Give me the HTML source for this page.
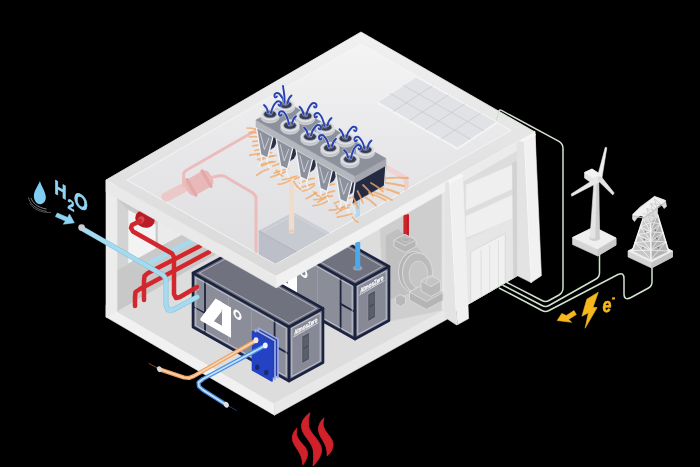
<!DOCTYPE html>
<html lang="en"><head><meta charset="utf-8"><title>AtmosZero heat pump system</title>
<style>
html,body{margin:0;padding:0;background:#000;}
body{width:700px;height:467px;overflow:hidden;font-family:"Liberation Sans",sans-serif;}
svg{display:block;will-change:transform;}
text{text-rendering:geometricPrecision;}
</style></head><body>
<svg width="700" height="467" viewBox="0 0 700 467">
<rect width="700" height="467" fill="#000"/>
<g id="floor">
<polygon points="106.0,305.0 274.5,403.7 447.0,307.8 447.0,250.0 361.0,165.0 117.0,300.0" fill="#dddddd"  stroke="#dddddd" stroke-width="0.6" stroke-linejoin="round"/>
<polygon points="106.0,305.0 274.5,403.7 274.5,415.2 106.0,317.0" fill="#f1f1f1"  stroke="#f1f1f1" stroke-width="0.6" stroke-linejoin="round"/>
<polygon points="274.5,403.7 447.0,307.8 447.0,319.3 274.5,415.2" fill="#e8e8e8"  stroke="#e8e8e8" stroke-width="0.6" stroke-linejoin="round"/>
<polyline points="274.5,403.7 447.0,307.8" fill="none" stroke="#f3f3f3" stroke-width="0.8" stroke-linejoin="round" stroke-linecap="round" />
</g>
<g id="interiorA">
<polygon points="110.0,185.0 117.0,311.0 216.0,254.0 216.0,245.0" fill="#c8c8c8"  stroke="#c8c8c8" stroke-width="0.6" stroke-linejoin="round"/>
<polygon points="128.0,210.0 156.0,225.0 156.0,248.0 128.0,264.0" fill="#f3f3f3"  stroke="#f3f3f3" stroke-width="0.6" stroke-linejoin="round"/>
<polygon points="117.0,199.0 128.0,210.0 128.0,264.0 117.0,270.0" fill="#d3d3d3"  stroke="#d3d3d3" stroke-width="0.6" stroke-linejoin="round"/>
<polygon points="156.0,225.0 158.0,226.0 158.0,247.0 156.0,248.0" fill="#c6c6c6"  stroke="#c6c6c6" stroke-width="0.6" stroke-linejoin="round"/>
<polygon points="158.0,220.0 184.0,235.0 158.0,247.5" fill="#ebebeb"  stroke="#ebebeb" stroke-width="0.6" stroke-linejoin="round"/>
<polygon points="128.0,264.0 184.0,234.0 202.0,244.0 144.0,273.0" fill="#c9c9c9"  stroke="#c9c9c9" stroke-width="0.6" stroke-linejoin="round"/>
</g>
<g id="interiorB">
<polygon points="277.0,289.0 447.0,195.0 447.0,308.0 330.0,372.0 277.0,330.0" fill="#dddddd"  stroke="#dddddd" stroke-width="0.6" stroke-linejoin="round"/>
<polygon points="380.0,227.0 447.0,189.0 447.0,309.0 385.0,322.0" fill="#cecece"  stroke="#cecece" stroke-width="0.6" stroke-linejoin="round"/>
<polygon points="442.0,192.0 447.0,189.0 447.0,309.0 442.0,310.0" fill="#e6e6e6"  stroke="#e6e6e6" stroke-width="0.6" stroke-linejoin="round"/>
</g>
<g id="motor">
<rect x="403.4" y="214.5" width="5.4" height="24" fill="#d3232a"/>
<rect x="407" y="214.5" width="1.8" height="24" fill="#b81c24"/>
<polygon points="386.0,236.0 398.0,229.0 421.0,252.0 409.0,293.0 387.0,300.0" fill="#c0c0c0"  stroke="#c0c0c0" stroke-width="0.6" stroke-linejoin="round"/>
<polygon points="394.0,240.0 405.0,234.5 416.0,240.0 416.0,246.5 405.0,252.5 394.0,246.5" fill="#b6b6b6" stroke="#dadada" stroke-width="0.9" stroke-linejoin="round"/>
<polygon points="394.0,240.0 405.0,234.5 416.0,240.0 405.0,245.5" fill="#b5b5b5" stroke="#dadada" stroke-width="0.9" stroke-linejoin="round"/>
<ellipse cx="405.8" cy="239.6" rx="4.2" ry="2.3" fill="#b2b2b2" stroke="#d0d0d0" stroke-width="0.7"/>
<ellipse cx="414" cy="272" rx="15.4" ry="20.5" fill="#b4b4b4" stroke="#d6d6d6" stroke-width="1.1"/>
<ellipse cx="417.5" cy="273" rx="15" ry="20" fill="#bbbbbb" stroke="#d8d8d8" stroke-width="1.1"/>
<ellipse cx="418.5" cy="274.5" rx="9.4" ry="13.5" fill="#c6c6c6" stroke="#d6d6d6" stroke-width="1"/>
<polygon points="395.5,297.0 400.0,294.5 405.5,297.5 405.5,303.5 400.5,306.5 395.5,303.5" fill="#b8b8b8" stroke="#dadada" stroke-width="0.9" stroke-linejoin="round"/>
<polygon points="409.5,292.0 426.0,283.0 443.0,292.5 443.0,300.5 426.5,309.5 409.5,300.0" fill="#b5b5b5" stroke="#dadada" stroke-width="0.9" stroke-linejoin="round"/>
<polygon points="409.5,292.0 426.0,283.0 443.0,292.5 426.5,301.5" fill="#c0c0c0" stroke="#dadada" stroke-width="0.9" stroke-linejoin="round"/>
<polygon points="421.0,281.0 431.0,275.5 440.5,281.0 440.5,291.0 431.0,296.5 421.0,291.0" fill="#b9b9b9" stroke="#dadada" stroke-width="0.9" stroke-linejoin="round"/>
<polygon points="421.0,281.0 431.0,275.5 440.5,281.0 431.0,286.5" fill="#c4c4c4" stroke="#dadada" stroke-width="0.9" stroke-linejoin="round"/>
<path d="M426,283.5 C426,278 431,275 435,278" fill="none" stroke="#dadada" stroke-width="0.9"/>
</g>
<g id="machine2">
<polygon points="259.0,231.0 293.0,212.5 389.0,266.5 355.0,285.0" fill="#70737f"  stroke="#70737f" stroke-width="0.6" stroke-linejoin="round"/>
<polygon points="259.0,231.0 355.0,285.0 355.0,339.0 259.0,285.0" fill="#8b8e99"  stroke="#8b8e99" stroke-width="0.6" stroke-linejoin="round"/>
<polygon points="355.0,285.0 389.0,266.5 389.0,320.5 355.0,339.0" fill="#878a96"  stroke="#878a96" stroke-width="0.6" stroke-linejoin="round"/>
<polyline points="294.5,255.0 294.5,301.0" fill="none" stroke="#9da0ab" stroke-width="0.8" stroke-linejoin="round" stroke-linecap="round" />
<polyline points="317.6,267.9 317.6,313.9" fill="none" stroke="#9da0ab" stroke-width="0.8" stroke-linejoin="round" stroke-linecap="round" />
<polyline points="271.0,239.8 271.0,289.8" fill="none" stroke="#1c2340" stroke-width="1.8" stroke-linejoin="round" stroke-linecap="round" />
<polyline points="340.6,278.9 340.6,328.9" fill="none" stroke="#1c2340" stroke-width="1.8" stroke-linejoin="round" stroke-linecap="round" />
<polyline points="340.6,303.9 355.0,312.0" fill="none" stroke="#1c2340" stroke-width="1.8" stroke-linejoin="round" stroke-linecap="round" />
<polyline points="259.0,264.5 271.0,271.2" fill="none" stroke="#1c2340" stroke-width="1.4" stroke-linejoin="round" stroke-linecap="round" />
<polyline points="261.8,235.5 352.2,286.3 352.2,334.5 261.8,283.7 261.8,235.5" fill="none" stroke="#d9dbe3" stroke-width="0.7" stroke-linejoin="round" stroke-linecap="round" />
<polyline points="357.8,286.3 386.2,271.0 386.2,319.2 357.8,334.5 357.8,286.3" fill="none" stroke="#d9dbe3" stroke-width="0.7" stroke-linejoin="round" stroke-linecap="round" />
<polyline points="265.5,231.0 293.0,216.1 382.5,266.5 355.0,281.4 265.5,231.0" fill="none" stroke="#c9ccd6" stroke-width="0.7" stroke-linejoin="round" stroke-linecap="round" />
<polyline points="259.0,231.0 293.0,212.5 389.0,266.5 355.0,285.0 259.0,231.0" fill="none" stroke="#1c2340" stroke-width="2.6" stroke-linejoin="round" stroke-linecap="round" />
<polyline points="259.0,231.0 259.0,285.0 355.0,339.0 389.0,320.5 389.0,266.5" fill="none" stroke="#1c2340" stroke-width="2.6" stroke-linejoin="round" stroke-linecap="round" />
<polyline points="355.0,285.0 355.0,339.0" fill="none" stroke="#1c2340" stroke-width="2.8" stroke-linejoin="round" stroke-linecap="round" />
<g transform="matrix(0.866,-0.5,0,1,359.3,287.5)"><line x1="0" y1="7.6" x2="29" y2="7.6" stroke="#eef0f5" stroke-width="0.7"/><text x="14.5" y="6.2" font-family="Liberation Sans, sans-serif" font-weight="700" font-size="6.8" fill="#ffffff" stroke="#ffffff" stroke-width="0.25" text-anchor="middle" textLength="27" lengthAdjust="spacingAndGlyphs">AtmosZero</text><rect x="10" y="12" width="8.5" height="27" fill="#4c4f5d" stroke="#a4a7b2" stroke-width="0.5"/><rect x="11.5" y="14" width="5.5" height="10" fill="#5b5e6b"/><rect x="11.5" y="26" width="5.5" height="11" fill="#5b5e6b"/></g>
<g transform="matrix(0.866,0.5,0,1,266.0,247.4)" fill="#ffffff" font-family="Liberation Sans, sans-serif" font-weight="700"><clipPath id="lc2"><polygon points="0.3,29.4 18,0 36,0 36,30.7 0.6,30.9"/></clipPath><g clip-path="url(#lc2)"><text transform="translate(-1.23,37.04) scale(1.506,1)" x="0" y="0" font-size="53.8">4</text></g><polygon points="0.3,29.4 18,0 25,0 25,9.6 15.9,24.2 25.4,24 25.4,30.6 0.6,30.9"/><text x="37.3" y="20" font-size="30">°</text></g>
</g>
<ellipse cx="357.7" cy="268" rx="4.6" ry="2.6" fill="#9aa0ad"/>
<rect x="355.2" y="242" width="5" height="26" fill="#4aa9ea"/>
<ellipse cx="357.7" cy="268" rx="2.5" ry="1.3" fill="#4aa9ea"/>
<g id="machine1">
<polygon points="193.0,273.0 227.0,254.5 323.0,308.5 289.0,327.0" fill="#70737f"  stroke="#70737f" stroke-width="0.6" stroke-linejoin="round"/>
<polygon points="193.0,273.0 289.0,327.0 289.0,381.0 193.0,327.0" fill="#8b8e99"  stroke="#8b8e99" stroke-width="0.6" stroke-linejoin="round"/>
<polygon points="289.0,327.0 323.0,308.5 323.0,362.5 289.0,381.0" fill="#878a96"  stroke="#878a96" stroke-width="0.6" stroke-linejoin="round"/>
<polyline points="228.5,297.0 228.5,343.0" fill="none" stroke="#9da0ab" stroke-width="0.8" stroke-linejoin="round" stroke-linecap="round" />
<polyline points="251.6,309.9 251.6,355.9" fill="none" stroke="#9da0ab" stroke-width="0.8" stroke-linejoin="round" stroke-linecap="round" />
<polyline points="205.0,281.8 205.0,331.8" fill="none" stroke="#1c2340" stroke-width="1.8" stroke-linejoin="round" stroke-linecap="round" />
<polyline points="274.6,320.9 274.6,370.9" fill="none" stroke="#1c2340" stroke-width="1.8" stroke-linejoin="round" stroke-linecap="round" />
<polyline points="274.6,345.9 289.0,354.0" fill="none" stroke="#1c2340" stroke-width="1.8" stroke-linejoin="round" stroke-linecap="round" />
<polyline points="193.0,306.5 205.0,313.2" fill="none" stroke="#1c2340" stroke-width="1.4" stroke-linejoin="round" stroke-linecap="round" />
<polyline points="195.8,277.5 286.2,328.3 286.2,376.5 195.8,325.7 195.8,277.5" fill="none" stroke="#d9dbe3" stroke-width="0.7" stroke-linejoin="round" stroke-linecap="round" />
<polyline points="291.8,328.3 320.2,313.0 320.2,361.2 291.8,376.5 291.8,328.3" fill="none" stroke="#d9dbe3" stroke-width="0.7" stroke-linejoin="round" stroke-linecap="round" />
<polyline points="199.5,273.0 227.0,258.1 316.5,308.5 289.0,323.4 199.5,273.0" fill="none" stroke="#c9ccd6" stroke-width="0.7" stroke-linejoin="round" stroke-linecap="round" />
<polyline points="193.0,273.0 227.0,254.5 323.0,308.5 289.0,327.0 193.0,273.0" fill="none" stroke="#1c2340" stroke-width="2.6" stroke-linejoin="round" stroke-linecap="round" />
<polyline points="193.0,273.0 193.0,327.0 289.0,381.0 323.0,362.5 323.0,308.5" fill="none" stroke="#1c2340" stroke-width="2.6" stroke-linejoin="round" stroke-linecap="round" />
<polyline points="289.0,327.0 289.0,381.0" fill="none" stroke="#1c2340" stroke-width="2.8" stroke-linejoin="round" stroke-linecap="round" />
<g transform="matrix(0.866,-0.5,0,1,293.3,329.5)"><line x1="0" y1="7.6" x2="29" y2="7.6" stroke="#eef0f5" stroke-width="0.7"/><text x="14.5" y="6.2" font-family="Liberation Sans, sans-serif" font-weight="700" font-size="6.8" fill="#ffffff" stroke="#ffffff" stroke-width="0.25" text-anchor="middle" textLength="27" lengthAdjust="spacingAndGlyphs">AtmosZero</text><rect x="10" y="12" width="8.5" height="27" fill="#4c4f5d" stroke="#a4a7b2" stroke-width="0.5"/><rect x="11.5" y="14" width="5.5" height="10" fill="#5b5e6b"/><rect x="11.5" y="26" width="5.5" height="11" fill="#5b5e6b"/></g>
<g transform="matrix(0.866,0.5,0,1,200.0,289.4)" fill="#ffffff" font-family="Liberation Sans, sans-serif" font-weight="700"><clipPath id="lc1"><polygon points="0.3,29.4 18,0 36,0 36,30.7 0.6,30.9"/></clipPath><g clip-path="url(#lc1)"><text transform="translate(-1.23,37.04) scale(1.506,1)" x="0" y="0" font-size="53.8">4</text></g><polygon points="0.3,29.4 18,0 25,0 25,9.6 15.9,24.2 25.4,24 25.4,30.6 0.6,30.9"/><text x="37.3" y="20" font-size="30">°</text></g>
</g>
<ellipse cx="197.5" cy="287.5" rx="1.8" ry="2.6" fill="#cfd2da"/><ellipse cx="197.5" cy="297" rx="1.8" ry="2.6" fill="#cfd2da"/>
<g id="hx">
<polygon points="258.5,328.1 278.0,339.1 278.0,377.6 258.5,366.6" fill="#2a3f9a" stroke="#9fb0f0" stroke-width="1.6" stroke-linejoin="round"/>
<polygon points="255.5,329.8 275.0,340.8 275.0,379.3 255.5,368.3" fill="#2a3f9a" stroke="#9fb0f0" stroke-width="1.6" stroke-linejoin="round"/>
<polygon points="252.5,331.5 272.0,342.5 272.0,381.0 252.5,370.0" fill="#2342c4" stroke="#2342c4" stroke-width="1.6" stroke-linejoin="round"/>
<ellipse cx="257.3" cy="367.3" rx="2.2" ry="2.8" fill="#1a2a6a"/><ellipse cx="266.3" cy="372.5" rx="2.2" ry="2.8" fill="#1a2a6a"/>
<polyline points="256.0,340.5 194.0,376.0 189.0,378.0 184.0,377.5 160.0,369.5" fill="none" stroke="#eea261" stroke-width="4.2" stroke-linejoin="round" stroke-linecap="round" />
<polyline points="256.0,340.5 194.0,376.0 189.0,378.0 184.0,377.5 162.0,370.0" fill="none" stroke="#f6d3b4" stroke-width="1.6" stroke-linejoin="round" stroke-linecap="round" />
<polyline points="159.0,369.0 149.0,363.5" fill="none" stroke="#a25a28" stroke-width="0.8" stroke-linejoin="round" stroke-linecap="round" />
<ellipse cx="159.5" cy="369.2" rx="2.4" ry="3" fill="#d9d9d9" transform="rotate(-30 159.5 369.2)"/>
<ellipse cx="256" cy="340.3" rx="2.4" ry="3" fill="#f3e8dc"/>
<polyline points="265.3,345.5 203.0,379.0 198.5,382.5 199.0,386.5 203.0,390.0 226.0,404.5" fill="none" stroke="#4b8fe2" stroke-width="4.2" stroke-linejoin="round" stroke-linecap="round" />
<polyline points="265.3,345.5 203.0,379.0 198.5,382.5 199.0,386.5 203.0,390.0 225.0,404.0" fill="none" stroke="#c4e2fb" stroke-width="1.6" stroke-linejoin="round" stroke-linecap="round" />
<polyline points="227.0,405.0 236.5,410.5" fill="none" stroke="#27408f" stroke-width="0.8" stroke-linejoin="round" stroke-linecap="round" />
<ellipse cx="226.3" cy="404.8" rx="2.4" ry="3" fill="#e0e0e0" transform="rotate(-30 226.3 404.8)"/>
<ellipse cx="265.3" cy="345.4" rx="2.4" ry="3" fill="#eef4fb"/>
</g>
<g id="slabfaces">
<polygon points="276.0,276.3 450.0,178.0 450.0,188.6 276.0,287.9" fill="#f1f1f1"  stroke="#f1f1f1" stroke-width="0.6" stroke-linejoin="round"/>
</g>
<g id="walls">
<polygon points="106.0,180.0 117.0,186.0 117.0,311.4 106.0,317.4" fill="#ececec"  stroke="#ececec" stroke-width="0.6" stroke-linejoin="round"/>
<polygon points="447.0,180.0 535.0,131.0 536.0,265.0 517.5,275.7 468.6,304.0 447.0,316.0" fill="#dddddd"  stroke="#dddddd" stroke-width="0.6" stroke-linejoin="round"/>
<polygon points="447.0,179.6 520.0,138.4 520.0,149.0 447.0,190.4" fill="#ebebeb"  stroke="#ebebeb" stroke-width="0.6" stroke-linejoin="round"/>
<polygon points="466.2,185.0 512.5,165.0 512.5,188.8 466.2,210.0" fill="#efefef"  stroke="#efefef" stroke-width="0.6" stroke-linejoin="round"/>
<polygon points="466.2,216.2 512.5,195.0 512.5,218.8 466.2,237.5" fill="#efefef"  stroke="#efefef" stroke-width="0.6" stroke-linejoin="round"/>
<polygon points="466.0,240.0 514.0,218.0 514.0,277.8 466.0,305.5" fill="#e6e6e6"  stroke="#e6e6e6" stroke-width="0.6" stroke-linejoin="round"/>
<polygon points="470.7,251.7 505.3,233.4 505.3,282.8 470.7,302.8" fill="#f0f0f0" stroke="#d5d5d5" stroke-width="0.8"/>
<polyline points="481.1,250.2 481.1,295.3" fill="none" stroke="#dadada" stroke-width="0.8" stroke-linejoin="round" stroke-linecap="round" />
<polyline points="489.7,245.6 489.7,290.6" fill="none" stroke="#dadada" stroke-width="0.8" stroke-linejoin="round" stroke-linecap="round" />
<polyline points="498.4,241.1 498.4,285.8" fill="none" stroke="#dadada" stroke-width="0.8" stroke-linejoin="round" stroke-linecap="round" />
<polygon points="512.5,163.0 517.0,161.0 517.5,275.7 513.5,278.0" fill="#d2d2d2"  stroke="#d2d2d2" stroke-width="0.6" stroke-linejoin="round"/>
<polygon points="445.5,181.0 449.5,178.3 456.6,325.0 445.4,317.7" fill="#e3e3e3"  stroke="#e3e3e3" stroke-width="0.6" stroke-linejoin="round"/>
<polygon points="449.5,178.3 462.5,171.5 468.6,318.6 457.4,324.8" fill="#f0f0f0"  stroke="#f0f0f0" stroke-width="0.6" stroke-linejoin="round"/>
<polyline points="449.5,178.3 456.8,324.6" fill="none" stroke="#f8f8f8" stroke-width="0.8" stroke-linejoin="round" stroke-linecap="round" />
<polygon points="517.0,140.0 524.3,136.5 531.1,282.6 517.5,275.7" fill="#e3e3e3"  stroke="#e3e3e3" stroke-width="0.6" stroke-linejoin="round"/>
<polygon points="524.3,136.5 535.0,132.0 541.4,275.7 531.1,282.6" fill="#f1f1f1"  stroke="#f1f1f1" stroke-width="0.6" stroke-linejoin="round"/>
<polyline points="524.3,136.5 531.1,282.4" fill="none" stroke="#f8f8f8" stroke-width="0.8" stroke-linejoin="round" stroke-linecap="round" />
<polygon points="446.3,180.7 459.3,173.7 463.5,175.7 450.5,183.0" fill="#f6f6f6"  stroke="#f6f6f6" stroke-width="0.6" stroke-linejoin="round"/>
<polygon points="518.0,139.5 531.5,132.8 535.8,134.8 522.3,141.7" fill="#f6f6f6"  stroke="#f6f6f6" stroke-width="0.6" stroke-linejoin="round"/>
</g>
<g id="pipesA">
<polyline points="147.0,264.0 192.0,241.0" fill="none" stroke="#a5dbef" stroke-width="4.4" stroke-linejoin="round" stroke-linecap="round" />
<polyline points="200.0,246.0 148.0,273.0 144.5,276.0 144.0,281.0 144.0,300.0" fill="none" stroke="#d3272e" stroke-width="4.5" stroke-linejoin="round" stroke-linecap="round" />
<polyline points="209.0,252.0 140.0,289.0 135.5,292.0 135.0,297.0 135.0,306.0" fill="none" stroke="#d3272e" stroke-width="4.5" stroke-linejoin="round" stroke-linecap="round" />
<ellipse cx="145" cy="219" rx="10" ry="8.5" fill="#b81d27" transform="rotate(25 145 219)"/>
<ellipse cx="141" cy="220" rx="3.2" ry="3.8" fill="#d94a50" transform="rotate(25 141 220)"/>
<polyline points="140.0,221.0 132.0,225.0 131.0,228.0 133.0,231.5 172.0,253.5 174.0,257.0 174.0,294.0 176.0,298.0 180.0,297.0 197.0,287.0" fill="none" stroke="#d3272e" stroke-width="4.5" stroke-linejoin="round" stroke-linecap="round" />
<polyline points="82.0,228.5 163.0,275.0 166.0,279.0 166.0,305.0 168.0,310.0 173.0,310.0 197.0,297.0" fill="none" stroke="#86c2dc" stroke-width="5" stroke-linejoin="round" stroke-linecap="round" />
<polyline points="82.0,228.5 163.0,275.0 166.0,279.0 166.0,305.0 168.0,310.0 173.0,310.0 197.0,297.0" fill="none" stroke="#a5dbef" stroke-width="3.8" stroke-linejoin="round" stroke-linecap="round" />
</g>
<polygon points="106.0,180.0 276.0,276.3 276.0,287.8 106.0,192.0" fill="#e9e9e9"  stroke="#e9e9e9" stroke-width="0.6" stroke-linejoin="round"/>
<g id="roof">
<defs><linearGradient id="pg" gradientUnits="userSpaceOnUse" x1="0" y1="32" x2="0" y2="276"><stop offset="0" stop-color="#f1f1f1"/><stop offset="0.5" stop-color="#e3e3e4"/><stop offset="1" stop-color="#d9d9da"/></linearGradient><linearGradient id="ig" gradientUnits="userSpaceOnUse" x1="0" y1="44" x2="0" y2="265"><stop offset="0" stop-color="#f4f4f5"/><stop offset="0.45" stop-color="#e8e8ea"/><stop offset="1" stop-color="#dedee1"/></linearGradient></defs>
<polygon points="361.0,32.0 535.0,132.0 276.0,276.3 106.0,180.0" fill="url(#pg)" stroke="#f2f2f2" stroke-width="0.8" stroke-linejoin="round"/>
<polygon points="361.0,44.0 511.0,130.5 275.5,264.0 127.0,180.0" fill="url(#ig)" stroke="#f6f6f6" stroke-width="0.9" stroke-linejoin="round"/>
</g>
<clipPath id="roofclip"><polygon points="361,44 511,130.5 275.5,264 127,180"/></clipPath>
<clipPath id="rooftop"><polygon points="361,32 535,132 276,276.3 106,180"/></clipPath>
<g id="ghost" clip-path="url(#roofclip)">
<polygon points="259.0,231.0 355.0,285.0 355.0,339.0 259.0,285.0" fill="#b9bcc5" clip-path="url(#roofclip)" opacity="0.9" stroke="#b9bcc5" stroke-width="0.6" stroke-linejoin="round"/>
<polygon points="259.0,231.0 293.0,212.5 389.0,266.5 355.0,285.0" fill="#c7c9d1" clip-path="url(#roofclip)" opacity="0.95" stroke="#c7c9d1" stroke-width="0.6" stroke-linejoin="round"/>
<polyline points="259.0,231.0 355.0,285.0" fill="none" stroke="#aeb1bb" stroke-width="1" stroke-linejoin="round" stroke-linecap="round" clip-path="url(#roofclip)"/>
<polyline points="263.0,231.5 294.0,215.0 383.0,265.0" fill="none" stroke="#d9dbe1" stroke-width="0.7" stroke-linejoin="round" stroke-linecap="round" clip-path="url(#roofclip)"/>
<polygon points="193.0,273.0 227.0,254.5 323.0,308.5 289.0,327.0" fill="#c4c7cf" clip-path="url(#roofclip)" opacity="0.9" stroke="#c4c7cf" stroke-width="0.6" stroke-linejoin="round"/>
<polyline points="166.0,197.0 190.0,184.5" fill="none" stroke="#ecc9c9" stroke-width="9.5" stroke-linejoin="round" stroke-linecap="round" stroke-linecap="butt"/>
<g transform="rotate(-30 199 183)"><rect x="185" y="174" width="28" height="18" rx="6" fill="#e9b9b9"/><rect x="188.5" y="172.5" width="3.4" height="21" rx="1.7" fill="#e3a9a9"/><rect x="206" y="172.5" width="3.4" height="21" rx="1.7" fill="#e3a9a9"/></g>
<polyline points="183.7,186.0 183.7,173.0 186.0,170.5 240.0,139.5 262.0,127.0" fill="none" stroke="#ecbcbc" stroke-width="3" stroke-linejoin="round" stroke-linecap="round" />
<polyline points="211.0,177.5 221.0,175.5 225.0,176.5 253.0,193.0 256.0,197.0 256.0,252.0" fill="none" stroke="#ecbcbc" stroke-width="3" stroke-linejoin="round" stroke-linecap="round" />
<polyline points="384.0,166.0 404.0,177.5 406.5,181.0 406.5,186.0" fill="none" stroke="#f0d3d3" stroke-width="5" stroke-linejoin="round" stroke-linecap="round" />
<polyline points="291.5,178.0 291.5,231.0" fill="none" stroke="#efdccb" stroke-width="5.2" stroke-linejoin="round" stroke-linecap="round" stroke-linecap="butt"/>
<ellipse cx="291.5" cy="231" rx="2.6" ry="1.4" fill="#e6cdb8"/>
<polyline points="406.0,178.0 406.0,216.0" fill="none" stroke="#ead0d0" stroke-width="4" stroke-linejoin="round" stroke-linecap="round" />
<polyline points="357.7,199.0 357.7,243.0" fill="none" stroke="#b4d8ee" stroke-width="4.6" stroke-linejoin="round" stroke-linecap="round" stroke-linecap="butt"/>
</g>
<g id="solar">
<polygon points="377.5,103.5 457.5,149.5 497.0,123.5 497.0,122.0 457.5,148.0 377.5,102.0" fill="#f4f4f4"  stroke="#f4f4f4" stroke-width="0.6" stroke-linejoin="round"/>
<polygon points="377.5,102.0 416.0,77.0 497.0,122.0 457.5,148.0" fill="#e1e2e5" stroke="#f6f6f6" stroke-width="0.9"/>
<polyline points="393.5,111.2 432.2,86.0" fill="none" stroke="#c9cacf" stroke-width="0.8" stroke-linejoin="round" stroke-linecap="round" />
<polyline points="409.5,120.4 448.4,95.0" fill="none" stroke="#c9cacf" stroke-width="0.8" stroke-linejoin="round" stroke-linecap="round" />
<polyline points="425.5,129.6 464.6,104.0" fill="none" stroke="#c9cacf" stroke-width="0.8" stroke-linejoin="round" stroke-linecap="round" />
<polyline points="441.5,138.8 480.8,113.0" fill="none" stroke="#c9cacf" stroke-width="0.8" stroke-linejoin="round" stroke-linecap="round" />
<polyline points="390.3,93.7 470.7,139.3" fill="none" stroke="#c9cacf" stroke-width="0.8" stroke-linejoin="round" stroke-linecap="round" />
<polyline points="403.2,85.3 483.8,130.7" fill="none" stroke="#c9cacf" stroke-width="0.8" stroke-linejoin="round" stroke-linecap="round" />
</g>
<g id="chiller">
<path d="M262.0,131.0 Q254.8,128.0 247.0,128.0" fill="none" stroke="#f1a663" stroke-width="1.7" stroke-linecap="round" opacity="0.78"/>
<path d="M263.6,134.6 Q256.6,132.1 249.1,132.5" fill="none" stroke="#f1a663" stroke-width="1.7" stroke-linecap="round" opacity="0.78"/>
<path d="M265.2,138.2 Q257.3,136.0 249.2,137.0" fill="none" stroke="#f1a663" stroke-width="1.7" stroke-linecap="round" opacity="0.78"/>
<path d="M266.8,141.8 Q259.7,140.2 252.6,141.5" fill="none" stroke="#f1a663" stroke-width="1.7" stroke-linecap="round" opacity="0.78"/>
<path d="M268.4,145.4 Q260.5,144.1 252.8,146.0" fill="none" stroke="#f1a663" stroke-width="1.7" stroke-linecap="round" opacity="0.78"/>
<path d="M270.0,149.0 Q262.3,148.2 254.9,150.5" fill="none" stroke="#f1a663" stroke-width="1.7" stroke-linecap="round" opacity="0.78"/>
<path d="M271.6,152.6 Q264.3,152.4 257.4,155.0" fill="none" stroke="#f1a663" stroke-width="1.7" stroke-linecap="round" opacity="0.78"/>
<path d="M273.2,156.2 Q265.1,156.3 257.7,159.5" fill="none" stroke="#f1a663" stroke-width="1.7" stroke-linecap="round" opacity="0.78"/>
<path d="M266.4,151.7 Q258.2,153.8 249.8,155.1" fill="none" stroke="#f1a663" stroke-width="1.7" stroke-linecap="round" opacity="0.78"/>
<path d="M275.9,155.5 Q267.2,156.1 260.0,161.0" fill="none" stroke="#f1a663" stroke-width="1.7" stroke-linecap="round" opacity="0.78"/>
<path d="M272.9,161.6 Q266.5,161.9 260.8,164.8" fill="none" stroke="#f1a663" stroke-width="1.7" stroke-linecap="round" opacity="0.78"/>
<path d="M289.3,161.8 Q280.7,162.3 272.9,166.0" fill="none" stroke="#f1a663" stroke-width="1.7" stroke-linecap="round" opacity="0.78"/>
<path d="M288.0,168.5 Q281.0,170.6 274.2,173.0" fill="none" stroke="#f1a663" stroke-width="1.7" stroke-linecap="round" opacity="0.78"/>
<path d="M286.6,171.4 Q278.7,174.6 270.6,177.2" fill="none" stroke="#f1a663" stroke-width="1.7" stroke-linecap="round" opacity="0.78"/>
<path d="M309.4,174.7 Q301.6,175.5 294.6,178.9" fill="none" stroke="#f1a663" stroke-width="1.7" stroke-linecap="round" opacity="0.78"/>
<path d="M314.0,178.4 Q306.3,179.3 299.9,183.5" fill="none" stroke="#f1a663" stroke-width="1.7" stroke-linecap="round" opacity="0.78"/>
<path d="M314.4,183.6 Q308.4,185.6 302.3,187.0" fill="none" stroke="#f1a663" stroke-width="1.7" stroke-linecap="round" opacity="0.78"/>
<path d="M334.5,184.2 Q327.0,185.1 319.9,187.4" fill="none" stroke="#f1a663" stroke-width="1.7" stroke-linecap="round" opacity="0.78"/>
<path d="M334.6,190.9 Q328.0,192.3 322.0,195.1" fill="none" stroke="#f1a663" stroke-width="1.7" stroke-linecap="round" opacity="0.78"/>
<path d="M332.5,195.9 Q324.3,197.1 317.8,202.3" fill="none" stroke="#f1a663" stroke-width="1.7" stroke-linecap="round" opacity="0.78"/>
<path d="M350.9,197.5 Q342.3,199.6 334.2,203.3" fill="none" stroke="#f1a663" stroke-width="1.7" stroke-linecap="round" opacity="0.78"/>
<path d="M357.1,203.1 Q349.1,204.6 341.5,207.6" fill="none" stroke="#f1a663" stroke-width="1.7" stroke-linecap="round" opacity="0.78"/>
<path d="M345.5,206.6 Q337.8,210.5 329.3,210.1" fill="none" stroke="#f1a663" stroke-width="1.7" stroke-linecap="round" opacity="0.78"/>
<path d="M383,178.5 Q395.5,177.1 408,178" fill="none" stroke="#f1a663" stroke-width="1.9" stroke-linecap="round" opacity="0.8"/>
<path d="M381.5,182.5 Q392.8,183.1 404,186" fill="none" stroke="#f1a663" stroke-width="1.9" stroke-linecap="round" opacity="0.8"/>
<path d="M378,187 Q388.5,189.1 399,193.5" fill="none" stroke="#f1a663" stroke-width="1.9" stroke-linecap="round" opacity="0.8"/>
<path d="M374,192 Q383.0,194.8 392,200" fill="none" stroke="#f1a663" stroke-width="1.9" stroke-linecap="round" opacity="0.8"/>
<polygon points="273.0,136.6 281.5,131.7 274.1,147.1 266.0,152.5" fill="#2a3047"  stroke="#2a3047" stroke-width="0.6" stroke-linejoin="round"/>
<polygon points="256.4,127.2 273.0,136.6 267.6,158.0 260.8,154.8" fill="#8d919d" stroke="#f2f3f5" stroke-width="1.3" stroke-linejoin="round"/>
<polyline points="260.4,133.4 264.4,149.6 268.8,138.3" fill="none" stroke="#dcdee3" stroke-width="0.8" stroke-linejoin="round" stroke-linecap="round" />
<polyline points="261.2,155.2 261.6,160.4 258.7,166.4" fill="none" stroke="#f0f1f4" stroke-width="1.5" stroke-linejoin="round" stroke-linecap="round" />
<polyline points="267.2,157.8 266.8,161.4 269.7,168.4" fill="none" stroke="#f0f1f4" stroke-width="1.5" stroke-linejoin="round" stroke-linecap="round" />
<polygon points="292.8,147.8 301.3,142.9 293.9,158.3 285.8,163.7" fill="#2a3047"  stroke="#2a3047" stroke-width="0.6" stroke-linejoin="round"/>
<polygon points="276.2,138.4 292.8,147.8 287.4,169.2 280.6,166.0" fill="#8d919d" stroke="#f2f3f5" stroke-width="1.3" stroke-linejoin="round"/>
<polyline points="280.2,144.6 284.2,160.8 288.6,149.5" fill="none" stroke="#dcdee3" stroke-width="0.8" stroke-linejoin="round" stroke-linecap="round" />
<polyline points="281.0,166.4 281.4,171.6 278.5,177.6" fill="none" stroke="#f0f1f4" stroke-width="1.5" stroke-linejoin="round" stroke-linecap="round" />
<polyline points="287.0,169.0 286.6,172.6 289.5,179.6" fill="none" stroke="#f0f1f4" stroke-width="1.5" stroke-linejoin="round" stroke-linecap="round" />
<polygon points="312.6,159.0 321.1,154.1 313.7,169.5 305.6,174.9" fill="#2a3047"  stroke="#2a3047" stroke-width="0.6" stroke-linejoin="round"/>
<polygon points="296.0,149.6 312.6,159.0 307.2,180.4 300.4,177.2" fill="#8d919d" stroke="#f2f3f5" stroke-width="1.3" stroke-linejoin="round"/>
<polyline points="300.0,155.8 304.0,172.0 308.4,160.7" fill="none" stroke="#dcdee3" stroke-width="0.8" stroke-linejoin="round" stroke-linecap="round" />
<polyline points="300.8,177.6 301.2,182.8 298.3,188.8" fill="none" stroke="#f0f1f4" stroke-width="1.5" stroke-linejoin="round" stroke-linecap="round" />
<polyline points="306.8,180.2 306.4,183.8 309.3,190.8" fill="none" stroke="#f0f1f4" stroke-width="1.5" stroke-linejoin="round" stroke-linecap="round" />
<polygon points="332.4,170.2 340.9,165.3 333.5,180.7 325.4,186.1" fill="#2a3047"  stroke="#2a3047" stroke-width="0.6" stroke-linejoin="round"/>
<polygon points="315.8,160.8 332.4,170.2 327.0,191.6 320.2,188.4" fill="#8d919d" stroke="#f2f3f5" stroke-width="1.3" stroke-linejoin="round"/>
<polyline points="319.8,167.0 323.8,183.2 328.2,171.9" fill="none" stroke="#dcdee3" stroke-width="0.8" stroke-linejoin="round" stroke-linecap="round" />
<polyline points="320.6,188.8 321.0,194.0 318.1,200.0" fill="none" stroke="#f0f1f4" stroke-width="1.5" stroke-linejoin="round" stroke-linecap="round" />
<polyline points="326.6,191.4 326.2,195.0 329.1,202.0" fill="none" stroke="#f0f1f4" stroke-width="1.5" stroke-linejoin="round" stroke-linecap="round" />
<polygon points="352.2,181.4 360.7,176.5 353.3,191.9 345.2,197.3" fill="#2a3047"  stroke="#2a3047" stroke-width="0.6" stroke-linejoin="round"/>
<polygon points="335.6,172.0 352.2,181.4 346.8,202.8 340.0,199.6" fill="#8d919d" stroke="#f2f3f5" stroke-width="1.3" stroke-linejoin="round"/>
<polyline points="339.6,178.2 343.6,194.4 348.0,183.1" fill="none" stroke="#dcdee3" stroke-width="0.8" stroke-linejoin="round" stroke-linecap="round" />
<polyline points="340.4,200.0 340.8,205.2 337.9,211.2" fill="none" stroke="#f0f1f4" stroke-width="1.5" stroke-linejoin="round" stroke-linecap="round" />
<polyline points="346.4,202.6 346.0,206.2 348.9,213.2" fill="none" stroke="#f0f1f4" stroke-width="1.5" stroke-linejoin="round" stroke-linecap="round" />
<path d="M275.7,161.5 Q268.3,162.3 261.9,166.1" fill="none" stroke="#f1a663" stroke-width="1.6" stroke-linecap="round" opacity="0.78"/>
<path d="M268.8,168.8 Q262.1,170.9 256.6,175.3" fill="none" stroke="#f1a663" stroke-width="1.6" stroke-linecap="round" opacity="0.78"/>
<path d="M276.3,170.1 Q278.5,174.1 282.6,176.2" fill="none" stroke="#f1a663" stroke-width="1.6" stroke-linecap="round" opacity="0.78"/>
<path d="M296.6,176.0 Q289.8,179.0 282.4,179.7" fill="none" stroke="#f1a663" stroke-width="1.6" stroke-linecap="round" opacity="0.78"/>
<path d="M290.1,180.1 Q284.7,184.0 278.1,184.2" fill="none" stroke="#f1a663" stroke-width="1.6" stroke-linecap="round" opacity="0.78"/>
<path d="M293.9,181.7 Q296.1,186.6 300.6,189.5" fill="none" stroke="#f1a663" stroke-width="1.6" stroke-linecap="round" opacity="0.78"/>
<path d="M314.5,185.5 Q309.3,189.9 302.6,191.2" fill="none" stroke="#f1a663" stroke-width="1.6" stroke-linecap="round" opacity="0.78"/>
<path d="M316.6,192.5 Q311.5,196.0 306.0,198.7" fill="none" stroke="#f1a663" stroke-width="1.6" stroke-linecap="round" opacity="0.78"/>
<path d="M313.6,191.8 Q316.3,195.4 320.5,197.0" fill="none" stroke="#f1a663" stroke-width="1.6" stroke-linecap="round" opacity="0.78"/>
<path d="M328.1,195.4 Q321.6,199.5 313.9,199.8" fill="none" stroke="#f1a663" stroke-width="1.6" stroke-linecap="round" opacity="0.78"/>
<path d="M327.4,201.2 Q320.8,205.5 312.9,205.7" fill="none" stroke="#f1a663" stroke-width="1.6" stroke-linecap="round" opacity="0.78"/>
<path d="M335.8,205.1 Q337.6,208.8 341.2,210.8" fill="none" stroke="#f1a663" stroke-width="1.6" stroke-linecap="round" opacity="0.78"/>
<path d="M350.7,207.3 Q342.5,208.3 336.3,213.7" fill="none" stroke="#f1a663" stroke-width="1.6" stroke-linecap="round" opacity="0.78"/>
<path d="M351.9,213.7 Q344.7,216.1 337.3,217.1" fill="none" stroke="#f1a663" stroke-width="1.6" stroke-linecap="round" opacity="0.78"/>
<path d="M352.5,217.1 Q354.5,220.5 358.0,222.2" fill="none" stroke="#f1a663" stroke-width="1.6" stroke-linecap="round" opacity="0.78"/>
<polygon points="355.0,183.0 386.0,165.5 384.5,185.0 352.0,203.5" fill="#252b42"  stroke="#252b42" stroke-width="0.6" stroke-linejoin="round"/>
<polyline points="355.0,182.0 351.5,205.0 348.5,213.0" fill="none" stroke="#e9ebef" stroke-width="1.6" stroke-linejoin="round" stroke-linecap="round" />
<polyline points="352.0,204.0 355.5,213.0" fill="none" stroke="#e9ebef" stroke-width="1.4" stroke-linejoin="round" stroke-linecap="round" />
<polyline points="386.0,165.5 384.5,186.0 386.5,193.0" fill="none" stroke="#dcdee3" stroke-width="1.4" stroke-linejoin="round" stroke-linecap="round" />
<path d="M371,183 Q377.0,186.1 383,191.5" fill="none" stroke="#f1a663" stroke-width="1.8" stroke-linecap="round" opacity="0.8"/>
<path d="M363,185 Q368.0,189.3 373,196" fill="none" stroke="#f1a663" stroke-width="1.8" stroke-linecap="round" opacity="0.8"/>
<path d="M357.5,191 Q360.2,195.8 363,203" fill="none" stroke="#f1a663" stroke-width="1.8" stroke-linecap="round" opacity="0.8"/>
<path d="M353,197 Q355.5,201.3 358,208" fill="none" stroke="#f1a663" stroke-width="1.8" stroke-linecap="round" opacity="0.8"/>
<path d="M365,197 Q370.5,200.1 376,205.5" fill="none" stroke="#f1a663" stroke-width="1.8" stroke-linecap="round" opacity="0.8"/>
<path d="M369,193 Q377.5,195.6 386,200.5" fill="none" stroke="#f1a663" stroke-width="1.8" stroke-linecap="round" opacity="0.8"/>
<polygon points="256.0,120.0 355.0,176.0 355.0,183.0 256.0,127.0" fill="#b4b7be"  stroke="#b4b7be" stroke-width="0.6" stroke-linejoin="round"/>
<polygon points="355.0,176.0 386.0,158.5 386.0,165.5 355.0,183.0" fill="#a5a8b0"  stroke="#a5a8b0" stroke-width="0.6" stroke-linejoin="round"/>
<polygon points="256.0,120.0 287.0,102.5 386.0,158.5 355.0,176.0" fill="#8d919b"  stroke="#8d919b" stroke-width="0.6" stroke-linejoin="round"/>
<ellipse cx="285.5" cy="107.7" rx="9.3" ry="5.7" fill="#c3c6cc" stroke="#e4e6ea" stroke-width="0.6"/>
<ellipse cx="285.5" cy="104.7" rx="9.3" ry="5.7" fill="#d9dbe0" stroke="#eceef1" stroke-width="0.6"/>
<ellipse cx="285.5" cy="104.7" rx="6.4" ry="3.8" fill="#353b50" stroke="#aeb2bd" stroke-width="0.7"/>
<ellipse cx="285.5" cy="104.9" rx="2.2" ry="1.2" fill="#5d6480"/>
<ellipse cx="305.5" cy="118.95" rx="9.3" ry="5.7" fill="#c3c6cc" stroke="#e4e6ea" stroke-width="0.6"/>
<ellipse cx="305.5" cy="115.95" rx="9.3" ry="5.7" fill="#d9dbe0" stroke="#eceef1" stroke-width="0.6"/>
<ellipse cx="305.5" cy="115.95" rx="6.4" ry="3.8" fill="#353b50" stroke="#aeb2bd" stroke-width="0.7"/>
<ellipse cx="305.5" cy="116.15" rx="2.2" ry="1.2" fill="#5d6480"/>
<ellipse cx="325.5" cy="130.2" rx="9.3" ry="5.7" fill="#c3c6cc" stroke="#e4e6ea" stroke-width="0.6"/>
<ellipse cx="325.5" cy="127.2" rx="9.3" ry="5.7" fill="#d9dbe0" stroke="#eceef1" stroke-width="0.6"/>
<ellipse cx="325.5" cy="127.2" rx="6.4" ry="3.8" fill="#353b50" stroke="#aeb2bd" stroke-width="0.7"/>
<ellipse cx="325.5" cy="127.4" rx="2.2" ry="1.2" fill="#5d6480"/>
<ellipse cx="345.5" cy="141.45" rx="9.3" ry="5.7" fill="#c3c6cc" stroke="#e4e6ea" stroke-width="0.6"/>
<ellipse cx="345.5" cy="138.45" rx="9.3" ry="5.7" fill="#d9dbe0" stroke="#eceef1" stroke-width="0.6"/>
<ellipse cx="345.5" cy="138.45" rx="6.4" ry="3.8" fill="#353b50" stroke="#aeb2bd" stroke-width="0.7"/>
<ellipse cx="345.5" cy="138.65" rx="2.2" ry="1.2" fill="#5d6480"/>
<ellipse cx="365.5" cy="152.7" rx="9.3" ry="5.7" fill="#c3c6cc" stroke="#e4e6ea" stroke-width="0.6"/>
<ellipse cx="365.5" cy="149.7" rx="9.3" ry="5.7" fill="#d9dbe0" stroke="#eceef1" stroke-width="0.6"/>
<ellipse cx="365.5" cy="149.7" rx="6.4" ry="3.8" fill="#353b50" stroke="#aeb2bd" stroke-width="0.7"/>
<ellipse cx="365.5" cy="149.9" rx="2.2" ry="1.2" fill="#5d6480"/>
<path d="M284.5,103.5 C283.5,98.5 282.5,97.0 279.5,94.0 C277.5,92.0 274.0,93.0 274.5,96.2 C274.9,98.0 276.7,97.6 276.9,96.4" fill="none" stroke="#e9ecf6" stroke-width="3.2" stroke-linecap="round" opacity="0.55"/>
<path d="M284.5,103.5 C283.5,98.5 282.5,97.0 279.5,94.0 C277.5,92.0 274.0,93.0 274.5,96.2 C274.9,98.0 276.7,97.6 276.9,96.4" fill="none" stroke="#2b43ae" stroke-width="1.9" stroke-linecap="round"/>
<path d="M287.5,103.0 C288.0,99.5 289.0,97.5 291.5,95.5" fill="none" stroke="#e9ecf6" stroke-width="3.2" stroke-linecap="round" opacity="0.55"/>
<path d="M287.5,103.0 C288.0,99.5 289.0,97.5 291.5,95.5" fill="none" stroke="#2b43ae" stroke-width="1.9" stroke-linecap="round"/>
<path d="M306.5,114.8 C307.5,109.8 308.5,107.0 311.5,104.0 C313.5,102.0 317.0,103.0 316.5,106.2 C316.1,108.0 314.3,107.6 314.1,106.5" fill="none" stroke="#e9ecf6" stroke-width="3.2" stroke-linecap="round" opacity="0.55"/>
<path d="M306.5,114.8 C307.5,109.8 308.5,107.0 311.5,104.0 C313.5,102.0 317.0,103.0 316.5,106.2 C316.1,108.0 314.3,107.6 314.1,106.5" fill="none" stroke="#2b43ae" stroke-width="1.9" stroke-linecap="round"/>
<path d="M303.5,114.2 C303.0,110.8 302.0,108.8 299.5,106.8" fill="none" stroke="#e9ecf6" stroke-width="3.2" stroke-linecap="round" opacity="0.55"/>
<path d="M303.5,114.2 C303.0,110.8 302.0,108.8 299.5,106.8" fill="none" stroke="#2b43ae" stroke-width="1.9" stroke-linecap="round"/>
<path d="M324.5,126.0 C323.5,121.0 322.5,117.1 319.5,114.1 C317.5,112.1 314.0,113.1 314.5,116.3 C314.9,118.1 316.7,117.7 316.9,116.5" fill="none" stroke="#e9ecf6" stroke-width="3.2" stroke-linecap="round" opacity="0.55"/>
<path d="M324.5,126.0 C323.5,121.0 322.5,117.1 319.5,114.1 C317.5,112.1 314.0,113.1 314.5,116.3 C314.9,118.1 316.7,117.7 316.9,116.5" fill="none" stroke="#2b43ae" stroke-width="1.9" stroke-linecap="round"/>
<path d="M327.5,125.5 C328.0,122.0 329.0,120.0 331.5,118.0" fill="none" stroke="#e9ecf6" stroke-width="3.2" stroke-linecap="round" opacity="0.55"/>
<path d="M327.5,125.5 C328.0,122.0 329.0,120.0 331.5,118.0" fill="none" stroke="#2b43ae" stroke-width="1.9" stroke-linecap="round"/>
<path d="M346.5,137.2 C347.5,132.2 348.5,130.8 351.5,127.8 C353.5,125.8 357.0,126.8 356.5,129.9 C356.1,131.8 354.3,131.3 354.1,130.2" fill="none" stroke="#e9ecf6" stroke-width="3.2" stroke-linecap="round" opacity="0.55"/>
<path d="M346.5,137.2 C347.5,132.2 348.5,130.8 351.5,127.8 C353.5,125.8 357.0,126.8 356.5,129.9 C356.1,131.8 354.3,131.3 354.1,130.2" fill="none" stroke="#2b43ae" stroke-width="1.9" stroke-linecap="round"/>
<path d="M343.5,136.8 C343.0,133.2 342.0,131.2 339.5,129.2" fill="none" stroke="#e9ecf6" stroke-width="3.2" stroke-linecap="round" opacity="0.55"/>
<path d="M343.5,136.8 C343.0,133.2 342.0,131.2 339.5,129.2" fill="none" stroke="#2b43ae" stroke-width="1.9" stroke-linecap="round"/>
<path d="M364.5,148.5 C363.5,143.5 362.5,140.8 359.5,137.8 C357.5,135.8 354.0,136.8 354.5,140.0 C354.9,141.8 356.7,141.4 356.9,140.2" fill="none" stroke="#e9ecf6" stroke-width="3.2" stroke-linecap="round" opacity="0.55"/>
<path d="M364.5,148.5 C363.5,143.5 362.5,140.8 359.5,137.8 C357.5,135.8 354.0,136.8 354.5,140.0 C354.9,141.8 356.7,141.4 356.9,140.2" fill="none" stroke="#2b43ae" stroke-width="1.9" stroke-linecap="round"/>
<path d="M367.5,148.0 C368.0,144.5 369.0,142.5 371.5,140.5" fill="none" stroke="#e9ecf6" stroke-width="3.2" stroke-linecap="round" opacity="0.55"/>
<path d="M367.5,148.0 C368.0,144.5 369.0,142.5 371.5,140.5" fill="none" stroke="#2b43ae" stroke-width="1.9" stroke-linecap="round"/>
<ellipse cx="270" cy="117.2" rx="9.3" ry="5.7" fill="#c3c6cc" stroke="#e4e6ea" stroke-width="0.6"/>
<ellipse cx="270" cy="114.2" rx="9.3" ry="5.7" fill="#d9dbe0" stroke="#eceef1" stroke-width="0.6"/>
<ellipse cx="270" cy="114.2" rx="6.4" ry="3.8" fill="#353b50" stroke="#aeb2bd" stroke-width="0.7"/>
<ellipse cx="270" cy="114.4" rx="2.2" ry="1.2" fill="#5d6480"/>
<ellipse cx="290" cy="128.45" rx="9.3" ry="5.7" fill="#c3c6cc" stroke="#e4e6ea" stroke-width="0.6"/>
<ellipse cx="290" cy="125.45" rx="9.3" ry="5.7" fill="#d9dbe0" stroke="#eceef1" stroke-width="0.6"/>
<ellipse cx="290" cy="125.45" rx="6.4" ry="3.8" fill="#353b50" stroke="#aeb2bd" stroke-width="0.7"/>
<ellipse cx="290" cy="125.65" rx="2.2" ry="1.2" fill="#5d6480"/>
<ellipse cx="310" cy="139.7" rx="9.3" ry="5.7" fill="#c3c6cc" stroke="#e4e6ea" stroke-width="0.6"/>
<ellipse cx="310" cy="136.7" rx="9.3" ry="5.7" fill="#d9dbe0" stroke="#eceef1" stroke-width="0.6"/>
<ellipse cx="310" cy="136.7" rx="6.4" ry="3.8" fill="#353b50" stroke="#aeb2bd" stroke-width="0.7"/>
<ellipse cx="310" cy="136.9" rx="2.2" ry="1.2" fill="#5d6480"/>
<ellipse cx="330" cy="150.95" rx="9.3" ry="5.7" fill="#c3c6cc" stroke="#e4e6ea" stroke-width="0.6"/>
<ellipse cx="330" cy="147.95" rx="9.3" ry="5.7" fill="#d9dbe0" stroke="#eceef1" stroke-width="0.6"/>
<ellipse cx="330" cy="147.95" rx="6.4" ry="3.8" fill="#353b50" stroke="#aeb2bd" stroke-width="0.7"/>
<ellipse cx="330" cy="148.15" rx="2.2" ry="1.2" fill="#5d6480"/>
<ellipse cx="350" cy="162.2" rx="9.3" ry="5.7" fill="#c3c6cc" stroke="#e4e6ea" stroke-width="0.6"/>
<ellipse cx="350" cy="159.2" rx="9.3" ry="5.7" fill="#d9dbe0" stroke="#eceef1" stroke-width="0.6"/>
<ellipse cx="350" cy="159.2" rx="6.4" ry="3.8" fill="#353b50" stroke="#aeb2bd" stroke-width="0.7"/>
<ellipse cx="350" cy="159.4" rx="2.2" ry="1.2" fill="#5d6480"/>
<path d="M271.0,113.0 C272.0,108.0 273.0,105.3 276.0,102.3 C278.0,100.3 281.5,101.3 281.0,104.5 C280.6,106.3 278.8,105.9 278.6,104.7" fill="none" stroke="#e9ecf6" stroke-width="3.2" stroke-linecap="round" opacity="0.55"/>
<path d="M271.0,113.0 C272.0,108.0 273.0,105.3 276.0,102.3 C278.0,100.3 281.5,101.3 281.0,104.5 C280.6,106.3 278.8,105.9 278.6,104.7" fill="none" stroke="#2b43ae" stroke-width="1.9" stroke-linecap="round"/>
<path d="M268.0,112.5 C267.5,109.0 266.5,107.0 264.0,105.0" fill="none" stroke="#e9ecf6" stroke-width="3.2" stroke-linecap="round" opacity="0.55"/>
<path d="M268.0,112.5 C267.5,109.0 266.5,107.0 264.0,105.0" fill="none" stroke="#2b43ae" stroke-width="1.9" stroke-linecap="round"/>
<path d="M289.0,124.2 C288.0,119.2 287.0,115.3 284.0,112.3 C282.0,110.3 278.5,111.3 279.0,114.5 C279.4,116.3 281.2,115.9 281.4,114.8" fill="none" stroke="#e9ecf6" stroke-width="3.2" stroke-linecap="round" opacity="0.55"/>
<path d="M289.0,124.2 C288.0,119.2 287.0,115.3 284.0,112.3 C282.0,110.3 278.5,111.3 279.0,114.5 C279.4,116.3 281.2,115.9 281.4,114.8" fill="none" stroke="#2b43ae" stroke-width="1.9" stroke-linecap="round"/>
<path d="M292.0,123.8 C292.5,120.2 293.5,118.2 296.0,116.2" fill="none" stroke="#e9ecf6" stroke-width="3.2" stroke-linecap="round" opacity="0.55"/>
<path d="M292.0,123.8 C292.5,120.2 293.5,118.2 296.0,116.2" fill="none" stroke="#2b43ae" stroke-width="1.9" stroke-linecap="round"/>
<path d="M311.0,135.5 C312.0,130.5 313.0,129.0 316.0,126.0 C318.0,124.0 321.5,125.0 321.0,128.2 C320.6,130.0 318.8,129.6 318.6,128.4" fill="none" stroke="#e9ecf6" stroke-width="3.2" stroke-linecap="round" opacity="0.55"/>
<path d="M311.0,135.5 C312.0,130.5 313.0,129.0 316.0,126.0 C318.0,124.0 321.5,125.0 321.0,128.2 C320.6,130.0 318.8,129.6 318.6,128.4" fill="none" stroke="#2b43ae" stroke-width="1.9" stroke-linecap="round"/>
<path d="M308.0,135.0 C307.5,131.5 306.5,129.5 304.0,127.5" fill="none" stroke="#e9ecf6" stroke-width="3.2" stroke-linecap="round" opacity="0.55"/>
<path d="M308.0,135.0 C307.5,131.5 306.5,129.5 304.0,127.5" fill="none" stroke="#2b43ae" stroke-width="1.9" stroke-linecap="round"/>
<path d="M329.0,146.8 C328.0,141.8 327.0,139.1 324.0,136.1 C322.0,134.1 318.5,135.1 319.0,138.2 C319.4,140.1 321.2,139.7 321.4,138.5" fill="none" stroke="#e9ecf6" stroke-width="3.2" stroke-linecap="round" opacity="0.55"/>
<path d="M329.0,146.8 C328.0,141.8 327.0,139.1 324.0,136.1 C322.0,134.1 318.5,135.1 319.0,138.2 C319.4,140.1 321.2,139.7 321.4,138.5" fill="none" stroke="#2b43ae" stroke-width="1.9" stroke-linecap="round"/>
<path d="M332.0,146.2 C332.5,142.8 333.5,140.8 336.0,138.8" fill="none" stroke="#e9ecf6" stroke-width="3.2" stroke-linecap="round" opacity="0.55"/>
<path d="M332.0,146.2 C332.5,142.8 333.5,140.8 336.0,138.8" fill="none" stroke="#2b43ae" stroke-width="1.9" stroke-linecap="round"/>
<path d="M351.0,158.0 C352.0,153.0 353.0,149.1 356.0,146.1 C358.0,144.1 361.5,145.1 361.0,148.3 C360.6,150.1 358.8,149.7 358.6,148.5" fill="none" stroke="#e9ecf6" stroke-width="3.2" stroke-linecap="round" opacity="0.55"/>
<path d="M351.0,158.0 C352.0,153.0 353.0,149.1 356.0,146.1 C358.0,144.1 361.5,145.1 361.0,148.3 C360.6,150.1 358.8,149.7 358.6,148.5" fill="none" stroke="#2b43ae" stroke-width="1.9" stroke-linecap="round"/>
<path d="M348.0,157.5 C347.5,154.0 346.5,152.0 344.0,150.0" fill="none" stroke="#e9ecf6" stroke-width="3.2" stroke-linecap="round" opacity="0.55"/>
<path d="M348.0,157.5 C347.5,154.0 346.5,152.0 344.0,150.0" fill="none" stroke="#2b43ae" stroke-width="1.9" stroke-linecap="round"/>
<path d="M284.5,102 C285,96 283.5,91 283,86" fill="none" stroke="#e9ecf6" stroke-width="3.2" stroke-linecap="round" opacity="0.55"/>
<path d="M284.5,102 C285,96 283.5,91 283,86" fill="none" stroke="#2b43ae" stroke-width="1.9" stroke-linecap="round"/>
</g>
<g id="wires">
<path d="M496.5,120.5 L498.6,111.5 Q499.2,109.3 501.5,110.4 L559,141.4 Q563,143.7 563,148.5 L563,288 Q563,292.5 559,295 L549,300.5 Q545.5,302.5 542,300.5 L506,282" fill="none" stroke="#d3e2cf" stroke-width="1.5" stroke-linejoin="round"/>
<path d="M599.5,251 L599.5,273 Q599.5,277 596,279 L549,305.5 Q545.5,307.5 542,305.5 L502.5,285" fill="none" stroke="#d3e2cf" stroke-width="1.5" stroke-linejoin="round"/>
<path d="M652,266 L652,282 Q652,286 648.5,288 L631,297.5 Q624,301 624,294 L624,279 Q624,271.5 618,274.5 L549,310.5 Q545.5,312.5 542,310.5 L499,288" fill="none" stroke="#d3e2cf" stroke-width="1.5" stroke-linejoin="round"/>
</g>
<g id="turbine">
<polygon points="572.5,237.5 594.0,227.0 616.0,238.0 616.0,245.0 597.5,256.0 572.5,244.5" fill="#d6d6d6"  stroke="#d6d6d6" stroke-width="0.6" stroke-linejoin="round"/>
<polygon points="597.5,249.0 616.0,238.0 616.0,245.0 597.5,256.0" fill="#c9c9c9"  stroke="#c9c9c9" stroke-width="0.6" stroke-linejoin="round"/>
<polygon points="572.5,237.5 594.0,227.0 616.0,238.0 597.5,249.0" fill="#efefef"  stroke="#efefef" stroke-width="0.6" stroke-linejoin="round"/>
<ellipse cx="594.7" cy="238" rx="5.6" ry="3" fill="#cfcfcf"/>
<polygon points="590.0,238.0 599.4,238.0 598.6,178.0 594.2,178.0" fill="#e4e4e4"  stroke="#e4e4e4" stroke-width="0.6" stroke-linejoin="round"/>
<polygon points="595.6,240.0 599.4,238.0 598.6,178.0 597.0,178.0" fill="#cdcdcd"  stroke="#cdcdcd" stroke-width="0.6" stroke-linejoin="round"/>
<polygon points="584.5,172.5 592.0,169.0 600.5,174.5 600.5,180.0 593.0,184.0 584.5,178.0" fill="#e4e4e4"  stroke="#e4e4e4" stroke-width="0.6" stroke-linejoin="round"/>
<polygon points="584.5,172.5 592.0,169.0 600.5,174.5 593.0,178.0" fill="#f3f3f3"  stroke="#f3f3f3" stroke-width="0.6" stroke-linejoin="round"/>
<polygon points="597.6,176.0 605.3,147.3 606.8,147.8 601.8,178.5" fill="#f0f0f0"  stroke="#f0f0f0" stroke-width="0.6" stroke-linejoin="round"/>
<polygon points="598.5,176.5 571.2,194.0 571.8,196.2 600.0,181.5" fill="#e9e9e9"  stroke="#e9e9e9" stroke-width="0.6" stroke-linejoin="round"/>
<polygon points="598.0,180.5 601.5,177.0 614.2,193.0 612.8,195.0" fill="#e4e4e4"  stroke="#e4e4e4" stroke-width="0.6" stroke-linejoin="round"/>
<circle cx="599.6" cy="178.6" r="2.3" fill="#dcdcdc"/>
</g>
<g id="pylon">
<polygon points="628.0,251.0 650.0,240.0 672.5,251.0 672.5,257.0 651.5,268.0 628.0,257.0" fill="#d4d4d4"  stroke="#d4d4d4" stroke-width="0.6" stroke-linejoin="round"/>
<polygon points="651.5,262.0 672.5,251.0 672.5,257.0 651.5,268.0" fill="#c4c4c4"  stroke="#c4c4c4" stroke-width="0.6" stroke-linejoin="round"/>
<polygon points="628.0,251.0 650.0,240.0 672.5,251.0 651.5,262.0" fill="#eeeeee"  stroke="#eeeeee" stroke-width="0.6" stroke-linejoin="round"/>
<polygon points="632.5,250.5 651.0,259.5 650.5,222.5 643.0,219.0" fill="#c6c6c6"  stroke="#c6c6c6" stroke-width="0.6" stroke-linejoin="round"/>
<polygon points="651.0,259.5 668.5,251.0 657.5,214.5 650.5,222.5" fill="#b2b2b2"  stroke="#b2b2b2" stroke-width="0.6" stroke-linejoin="round"/>
<polyline points="632.5,250.5 650.9,250.2" fill="none" stroke="#efefef" stroke-width="1.0" stroke-linejoin="round" stroke-linecap="round" />
<polyline points="651.0,259.5 635.1,242.6" fill="none" stroke="#efefef" stroke-width="1.0" stroke-linejoin="round" stroke-linecap="round" />
<polyline points="635.1,242.6 650.9,250.2" fill="none" stroke="#efefef" stroke-width="1.0" stroke-linejoin="round" stroke-linecap="round" />
<polyline points="635.1,242.6 650.8,241.0" fill="none" stroke="#efefef" stroke-width="1.0" stroke-linejoin="round" stroke-linecap="round" />
<polyline points="650.9,250.2 637.8,234.8" fill="none" stroke="#efefef" stroke-width="1.0" stroke-linejoin="round" stroke-linecap="round" />
<polyline points="637.8,234.8 650.8,241.0" fill="none" stroke="#efefef" stroke-width="1.0" stroke-linejoin="round" stroke-linecap="round" />
<polyline points="637.8,234.8 650.6,231.8" fill="none" stroke="#efefef" stroke-width="1.0" stroke-linejoin="round" stroke-linecap="round" />
<polyline points="650.8,241.0 640.4,226.9" fill="none" stroke="#efefef" stroke-width="1.0" stroke-linejoin="round" stroke-linecap="round" />
<polyline points="640.4,226.9 650.6,231.8" fill="none" stroke="#efefef" stroke-width="1.0" stroke-linejoin="round" stroke-linecap="round" />
<polyline points="640.4,226.9 650.5,222.5" fill="none" stroke="#efefef" stroke-width="1.0" stroke-linejoin="round" stroke-linecap="round" />
<polyline points="650.6,231.8 643.0,219.0" fill="none" stroke="#efefef" stroke-width="1.0" stroke-linejoin="round" stroke-linecap="round" />
<polyline points="643.0,219.0 650.5,222.5" fill="none" stroke="#efefef" stroke-width="1.0" stroke-linejoin="round" stroke-linecap="round" />
<polyline points="651.0,259.5 665.8,241.9" fill="none" stroke="#e4e4e4" stroke-width="1.0" stroke-linejoin="round" stroke-linecap="round" />
<polyline points="668.5,251.0 650.9,250.2" fill="none" stroke="#e4e4e4" stroke-width="1.0" stroke-linejoin="round" stroke-linecap="round" />
<polyline points="650.9,250.2 665.8,241.9" fill="none" stroke="#e4e4e4" stroke-width="1.0" stroke-linejoin="round" stroke-linecap="round" />
<polyline points="650.9,250.2 663.0,232.8" fill="none" stroke="#e4e4e4" stroke-width="1.0" stroke-linejoin="round" stroke-linecap="round" />
<polyline points="665.8,241.9 650.8,241.0" fill="none" stroke="#e4e4e4" stroke-width="1.0" stroke-linejoin="round" stroke-linecap="round" />
<polyline points="650.8,241.0 663.0,232.8" fill="none" stroke="#e4e4e4" stroke-width="1.0" stroke-linejoin="round" stroke-linecap="round" />
<polyline points="650.8,241.0 660.2,223.6" fill="none" stroke="#e4e4e4" stroke-width="1.0" stroke-linejoin="round" stroke-linecap="round" />
<polyline points="663.0,232.8 650.6,231.8" fill="none" stroke="#e4e4e4" stroke-width="1.0" stroke-linejoin="round" stroke-linecap="round" />
<polyline points="650.6,231.8 660.2,223.6" fill="none" stroke="#e4e4e4" stroke-width="1.0" stroke-linejoin="round" stroke-linecap="round" />
<polyline points="650.6,231.8 657.5,214.5" fill="none" stroke="#e4e4e4" stroke-width="1.0" stroke-linejoin="round" stroke-linecap="round" />
<polyline points="660.2,223.6 650.5,222.5" fill="none" stroke="#e4e4e4" stroke-width="1.0" stroke-linejoin="round" stroke-linecap="round" />
<polyline points="650.5,222.5 657.5,214.5" fill="none" stroke="#e4e4e4" stroke-width="1.0" stroke-linejoin="round" stroke-linecap="round" />
<polyline points="632.5,250.5 643.0,219.0" fill="none" stroke="#f2f2f2" stroke-width="1.6" stroke-linejoin="round" stroke-linecap="round" />
<polyline points="651.0,259.5 650.5,222.5" fill="none" stroke="#f2f2f2" stroke-width="1.6" stroke-linejoin="round" stroke-linecap="round" />
<polyline points="668.5,251.0 657.5,214.5" fill="none" stroke="#f2f2f2" stroke-width="1.6" stroke-linejoin="round" stroke-linecap="round" />
<circle cx="643.0" cy="247.9" r="0.9" fill="#8a8a8a"/>
<circle cx="658.3" cy="247.6" r="0.9" fill="#7a7a7a"/>
<circle cx="644.2" cy="239.4" r="0.9" fill="#8a8a8a"/>
<circle cx="656.9" cy="238.4" r="0.9" fill="#7a7a7a"/>
<circle cx="645.3" cy="231.8" r="0.9" fill="#8a8a8a"/>
<circle cx="655.6" cy="230.3" r="0.9" fill="#7a7a7a"/>
<polygon points="632.7,214.5 640.0,207.0 654.5,196.4 665.5,200.5 666.5,206.5 664.0,208.5 661.5,204.5 657.5,207.0 657.5,215.0 650.5,222.5 643.0,219.0 643.0,213.5 637.0,218.0 634.5,221.5 632.5,219.0" fill="#dcdcdc"  stroke="#dcdcdc" stroke-width="0.6" stroke-linejoin="round"/>
<polygon points="632.7,214.5 654.5,196.4 665.5,200.5 644.0,216.5" fill="#f0f0f0"  stroke="#f0f0f0" stroke-width="0.6" stroke-linejoin="round"/>
<polyline points="634.0,216.5 644.0,218.0 665.5,202.5" fill="none" stroke="#bdbdbd" stroke-width="0.9" stroke-linejoin="round" stroke-linecap="round" />
<polyline points="643.0,213.5 654.0,216.5" fill="none" stroke="#c4c4c4" stroke-width="0.7" stroke-linejoin="round" stroke-linecap="round" />
<polyline points="650.5,222.5 646.8,208.7" fill="none" stroke="#c4c4c4" stroke-width="0.7" stroke-linejoin="round" stroke-linecap="round" />
<polyline points="646.8,208.7 654.0,216.5" fill="none" stroke="#c4c4c4" stroke-width="0.7" stroke-linejoin="round" stroke-linecap="round" />
<polyline points="646.8,208.7 657.5,210.5" fill="none" stroke="#c4c4c4" stroke-width="0.7" stroke-linejoin="round" stroke-linecap="round" />
<polyline points="654.0,216.5 650.7,203.8" fill="none" stroke="#c4c4c4" stroke-width="0.7" stroke-linejoin="round" stroke-linecap="round" />
<polyline points="650.7,203.8 657.5,210.5" fill="none" stroke="#c4c4c4" stroke-width="0.7" stroke-linejoin="round" stroke-linecap="round" />
<polyline points="650.7,203.8 661.0,204.5" fill="none" stroke="#c4c4c4" stroke-width="0.7" stroke-linejoin="round" stroke-linecap="round" />
<polyline points="657.5,210.5 654.5,199.0" fill="none" stroke="#c4c4c4" stroke-width="0.7" stroke-linejoin="round" stroke-linecap="round" />
<polyline points="654.5,199.0 661.0,204.5" fill="none" stroke="#c4c4c4" stroke-width="0.7" stroke-linejoin="round" stroke-linecap="round" />
</g>
<g id="icons">
<path d="M39.9,180.9 C38,186 33.6,191 33.9,196.5 C34.2,201.5 37.3,204.3 40.3,204.2 C43.6,204.1 46,201 45.8,196.8 C45.6,191.5 41.4,186.5 39.9,180.9 Z" fill="#7fcdf1"/>
<path d="M28.5,197.5 C29.5,203 35,209.5 47,211.5" fill="none" stroke="#6b6f73" stroke-width="0.9"/>
<path d="M31,198 C32.5,202.5 37,207.5 46.5,209" fill="none" stroke="#8a8e92" stroke-width="0.9"/>
<path d="M30,203.5 C33,208.5 40,213 51,212.5" fill="none" stroke="#55595d" stroke-width="0.9"/>
<g transform="matrix(0.866,0.5,0,1,55.3,179.6)" fill="#8fd5f3" stroke="#8fd5f3" stroke-width="0.6" stroke-linejoin="round" font-family="Liberation Sans, sans-serif" font-weight="700"><text x="-1.3" y="14.1" font-size="19.7">H<tspan x="14.2" y="21.3" font-size="14.3">2</tspan><tspan x="21.7" y="14.3" font-size="20.5">O</tspan></text></g>
<polygon points="57.3,213.0 67.6,217.4 69.5,214.0 74.3,222.8 63.3,224.2 65.4,221.0 55.4,216.6" fill="#8fd5f3"  stroke="#8fd5f3" stroke-width="0.6" stroke-linejoin="round"/>
<circle cx="81.6" cy="227.6" r="3.3" fill="#c9cdd0"/>
<path d="M309.9,412.8 C303,418 300.5,423.5 302,429.5 C304,437 313,443 313.5,452 C313.8,457 313.6,462 313,466 C318,461 322,455 321.5,449 C320.5,440 309.5,433.5 308.5,425.5 C308,421 309,416.5 309.9,412.8 Z" fill="#d0212b" stroke="#d0212b" stroke-width="0.9" stroke-linejoin="round"/>
<path d="M297,428.2 C293,432 291.8,436.5 292.8,441 C294.5,447.5 302,452 302.8,464.8 C306.5,460 308,456 307.3,452 C306,445.5 298,441.5 296.6,435 C296.2,432.5 296.4,430.5 297,428.2 Z" fill="#d0212b" stroke="#d0212b" stroke-width="0.9" stroke-linejoin="round"/>
<path d="M324,417.9 C319.5,422 317.8,427 318.8,432 C320.5,439.5 327.5,443 327.2,455.8 C331.5,452 333.5,448 333,443.5 C332,436.5 324.5,432.5 323.3,425.5 C322.9,422.5 323.2,420.5 324,417.9 Z" fill="#d0212b" stroke="#d0212b" stroke-width="0.9" stroke-linejoin="round"/>
<polygon points="598.3,292.2 586.8,299.3 581.9,316.2 588.4,312.8 585.1,328.2 597.1,307.6 593.0,307.3" fill="#f6b71d"  stroke="#f6b71d" stroke-width="0.6" stroke-linejoin="round"/>
<polygon points="557.2,320.5 561.8,313.4 566.3,315.6 574.0,310.6 576.3,314.6 568.6,319.4 571.6,322.3" fill="#f6b71d"  stroke="#f6b71d" stroke-width="0.6" stroke-linejoin="round"/>
<text transform="translate(602.6,311.8) scale(1,1.27)" x="0" y="0" font-family="Liberation Sans, sans-serif" font-weight="700" font-style="italic" font-size="16" fill="#f6b71d" stroke="#f6b71d" stroke-width="0.5">e<tspan x="9.2" y="-7.9" font-size="10.5" stroke-width="0.2">-</tspan></text>
</g>
</svg>
</body></html>
